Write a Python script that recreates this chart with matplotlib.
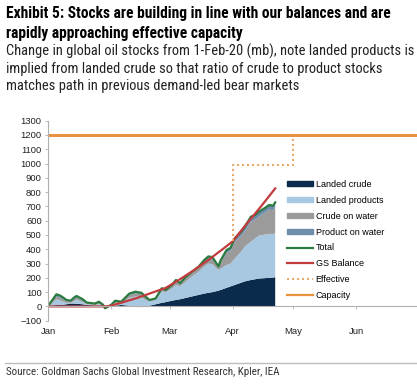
import numpy as np
import matplotlib
matplotlib.use('Agg')
import matplotlib.pyplot as plt
from matplotlib.lines import Line2D
from matplotlib.patches import Patch

# days since 1-Jan-20
days = [0, 2, 4, 6, 9, 11, 13, 14, 17, 19, 23, 25, 27, 28, 31, 33, 36, 40, 43, 46,
        48, 50, 53, 56, 58, 61, 63, 65, 68, 71, 74, 77, 79, 81, 84, 85, 88, 90, 92, 95,
        97, 100, 102, 104, 107, 109, 111, 112]

landed_crude = [0, 5, 10, 10, 15, 20, 20, 18, 15, 10, 5, 5, 0, -5, 0, 5, 10, 5, 0, -5,
                0, 5, 15, 25, 30, 40, 45, 50, 60, 70, 80, 90, 95, 100, 110, 115, 130, 140, 150, 165,
                175, 185, 190, 195, 198, 200, 202, 205]
landed_products = [5, 20, 40, 30, 10, 5, 20, 30, 15, 7, 5, 13, 5, 0, 5, 20, 15, 55, 70, 70,
                   45, 30, 30, 80, 70, 85, 105, 90, 115, 140, 160, 190, 205, 195, 145, 150, 160, 160, 185, 215,
                   245, 268, 285, 300, 305, 308, 305, 307]
crude_on_water = [0, 10, 20, 20, 10, 10, 15, 15, 10, 5, 5, 10, 5, -5, 5, 10, 5, 20, 20, 20,
                  15, 5, 5, 15, 10, 15, 20, 15, 20, 20, 25, 30, 35, 35, 15, 40, 85, 90, 115, 110,
                  105, 140, 130, 133, 152, 170, 165, 186]
product_on_water = [0, 10, 15, 15, 10, 5, 10, 10, 10, 5, 5, 5, 2, -3, 0, 5, 3, 10, 13, 10,
                    8, 5, 6, 7, 5, 10, 15, 8, 13, 13, 10, 15, 15, 15, 10, 15, 20, 20, 27, 30,
                    33, 35, 35, 35, 35, 32, 33, 30]

gs_days = [0, 28, 31, 37, 44, 51, 58, 65, 72, 79, 86, 91, 98, 105, 112]
gs_balance = [0, 0, 5, 30, 60, 95, 130, 190, 255, 325, 400, 455, 580, 700, 826]

eff_days = [91, 91, 121, 121]
effective = [455, 990, 990, 1200]

cap_days = [0, 182]
capacity = [1200, 1200]

months = ['Jan', 'Feb', 'Mar', 'Apr', 'May', 'Jun']

start = np.datetime64('2020-01-01')
to_dates = lambda d: start + np.array(d, dtype='timedelta64[D]')
x = to_dates(days)
total = np.sum([landed_crude, landed_products, crude_on_water, product_on_water], axis=0)

c_crude = '#0B2B4C'
c_prod = '#A8C8E1'
c_cwater = '#9B9B9B'
c_pwater = '#6F8EAC'
c_total = '#2B7A3F'
c_gs = '#C23B3D'
c_eff = '#E9A86C'
c_cap = '#E8913F'

fig = plt.figure(figsize=(4.17, 3.88), dpi=100)
ax = fig.add_axes([48.3 / 417, 1 - 320.7 / 388, 1 - 48.3 / 417, 200 / 388])

ax.stackplot(x, landed_crude, landed_products, crude_on_water, product_on_water,
             colors=[c_crude, c_prod, c_cwater, c_pwater], lw=0)
ax.plot(x, total, color=c_total, lw=1.6)
ax.plot(to_dates(gs_days), gs_balance, color=c_gs, lw=1.6)
ax.plot(to_dates(eff_days), effective, color=c_eff, lw=1.5, ls=(0, (1, 1.4)))
ax.plot(to_dates(cap_days), capacity, color=c_cap, lw=2.2)

ax.set_xlim(to_dates([0])[0], to_dates([182])[0])
ax.set_ylim(-100, 1300)
ax.set_yticks(range(-100, 1301, 100))
ax.set_xticks(to_dates([0, 31, 60, 91, 121, 152]))
ax.set_xticklabels(months)

for s in ['top', 'right']:
    ax.spines[s].set_visible(False)
ax.spines['bottom'].set_position(('data', 0))
for s in ['left', 'bottom']:
    ax.spines[s].set_color('#B0B0B0')
    ax.spines[s].set_linewidth(0.8)
ax.tick_params(axis='y', length=2.5, width=0.6, color='#B0B0B0', pad=2.2,
               labelsize=6.8, labelcolor='#222222')
ax.tick_params(axis='x', length=2.5, width=0.6, color='#B0B0B0', pad=12.5,
               labelsize=6.8, labelcolor='#222222')
for t in ax.get_xticklabels() + ax.get_yticklabels():
    t.set_fontfamily('Liberation Sans')

handles = [Patch(color=c_crude, label='Landed crude'),
           Patch(color=c_prod, label='Landed products'),
           Patch(color=c_cwater, label='Crude on water'),
           Patch(color=c_pwater, label='Product on water'),
           Line2D([], [], color=c_total, lw=1.6, label='Total'),
           Line2D([], [], color=c_gs, lw=1.6, label='GS Balance'),
           Line2D([], [], color=c_eff, lw=1.5, ls=(0, (1, 1.4)), label='Effective'),
           Line2D([], [], color=c_cap, lw=1.6, label='Capacity')]
fig.legend(handles=handles, loc='upper left', bbox_to_anchor=(286.7 / 417, 1 - 180 / 388),
           frameon=False, borderpad=0, borderaxespad=0, handlelength=2.9, handleheight=0.45,
           handletextpad=0.3, labelspacing=0.76, prop={'family': 'Liberation Sans', 'size': 6.5})

fig.text(6 / 417, 0.984,
         'Exhibit 5: Stocks are building in line with our balances and are\nrapidly approaching effective capacity',
         fontfamily='Roboto Condensed', fontweight='bold', fontsize=11.2, va='top', linespacing=1.4)
fig.text(6 / 417, 1 - 44 / 388,
         'Change in global oil stocks from 1-Feb-20 (mb), note landed products is\n'
         'implied from landed crude so that ratio of crude to product stocks\n'
         'matches path in previous demand-led bear markets',
         fontfamily='Roboto Condensed', fontsize=10.45, va='top', linespacing=1.27, color='#222222')
fig.add_artist(Line2D([5 / 417, 1], [1 - 363 / 388] * 2, transform=fig.transFigure,
                      color='#BDBDBD', lw=1))
fig.text(6 / 417, 1 - 372 / 388, 'Source: Goldman Sachs Global Investment Research, Kpler, IEA',
         fontfamily='Roboto Condensed', fontsize=7.9, va='center', color='#333333')

fig.savefig('out.png', dpi=100)
